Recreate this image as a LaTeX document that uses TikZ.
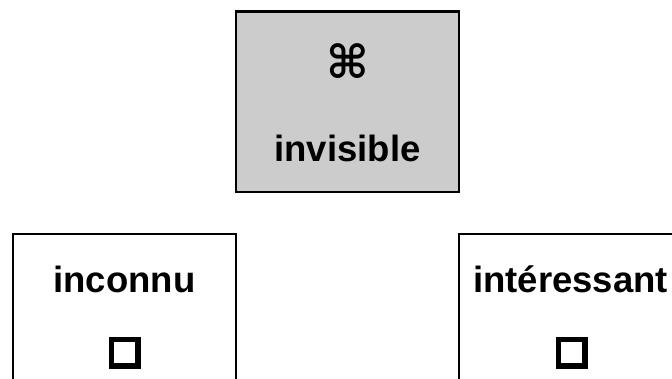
\documentclass[tikz,border=0pt]{standalone}
\usepackage{fontspec}
\setmainfont{Liberation Sans}
\newfontfamily\symfont{DejaVu Sans}
\definecolor{cellgray}{HTML}{CCCCCC}
\begin{document}
\begin{tikzpicture}[x=1pt,y=-1pt,
  cell/.style={draw,line width=2.5pt,minimum width=223pt,inner sep=0pt},
  title/.style={font=\fontsize{36.5}{40}\selectfont\bfseries,anchor=base,inner sep=0pt},
  checkbox/.style={draw,line width=5.5pt,minimum size=26.5pt,inner sep=0pt}]
\useasboundingbox (0,0) rectangle (672,378);
\clip (0,0) rectangle (672,378);

\node[cell,fill=cellgray,minimum height=180.5pt] (hidden) at (347.5,101.75) {};
\node[cell,minimum height=200pt] (unknown) at (124.5,334) {};
\node[cell,minimum height=200pt] (interesting) at (570.5,334) {};

\node[font=\symfont\bfseries\fontsize{46}{50}\selectfont,inner sep=0pt] (cmd) at (347.5,61) {⌘};
\node[title] (hiddentxt) at (347.5,161) {invisible};

\node[title] (unknowntxt) at (124.5,292) {inconnu};
\node[checkbox] (unknownbox) at (124.5,352.5) {};

\node[title] (interestingtxt) at (570.5,292) {intéressant};
\node[checkbox] (interestingbox) at (571.5,352.5) {};
\end{tikzpicture}
\end{document}
